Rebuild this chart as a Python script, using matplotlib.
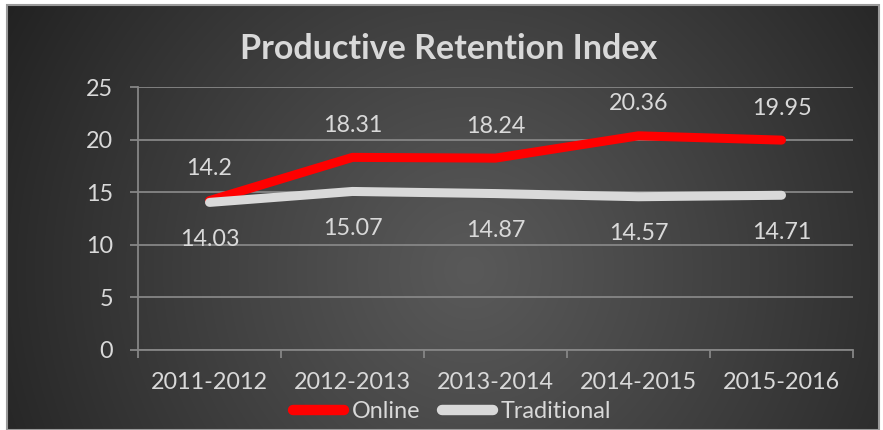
import numpy as np
import matplotlib
matplotlib.use("Agg")
import matplotlib.pyplot as plt
from matplotlib.patches import Rectangle
from matplotlib.lines import Line2D

categories = ["2011-2012", "2012-2013", "2013-2014", "2014-2015", "2015-2016"]
online = [14.2, 18.31, 18.24, 20.36, 19.95]
traditional = [14.03, 15.07, 14.87, 14.57, 14.71]
yticks = [0, 5, 10, 15, 20, 25]
title = "Productive Retention Index"

W, H = 883, 430
TXT = "#D9D9D9"
GRID = "#868686"
FONT = "Lato"
FS = 16.8
plt.rcParams["font.family"] = [FONT, "DejaVu Sans"]

fig = plt.figure(figsize=(W / 100, H / 100), dpi=100)
fig.patch.set_facecolor("white")

# background radial gradient chart area
x0, y0, x1, y1 = 7, 5, 879, 430
bg = fig.add_axes([x0 / W, 0, (x1 - x0) / W, 1 - y0 / H])
bg.set_axis_off()
gx, gy = np.meshgrid(np.arange(x0, x1), np.arange(y0, y1))
cx, cy = 470, 270
d = np.sqrt((gx - cx) ** 2 + (gy - cy) ** 2)
d = d / d.max()
c_in, c_out = 0x59, 0x22
v = (c_in + (c_out - c_in) * np.clip(d, 0, 1) ** 1.1) / 255.0
img = np.dstack([v, v, v])
bg.imshow(img, aspect="auto", interpolation="bilinear")
fig.patches.append(Rectangle((x0 / W, 0), (x1 - x0) / W, 1 - y0 / H, transform=fig.transFigure,
                             fill=False, edgecolor="#9a9a9a", linewidth=1.5))

ax = fig.add_axes([138 / W, 1 - 350 / H, (853 - 138) / W, (350 - 87) / H])
ax.set_facecolor("none")
n = len(categories)
xs = np.arange(n)
ax.set_xlim(-0.5, n - 0.5)
ax.set_ylim(0, 25)

ax.set_yticks(yticks)
ax.set_yticklabels([str(t) for t in yticks])
ax.yaxis.grid(True, color=GRID, linewidth=1.3)
ax.set_axisbelow(True)
ax.tick_params(axis="y", colors=GRID, labelcolor=TXT, labelsize=FS, length=6, width=1.3, pad=12)

ax.set_xticks(xs)
ax.set_xticklabels(categories)
ax.set_xticks(np.arange(-0.5, n, 1.0), minor=True)
ax.tick_params(axis="x", which="major", length=0, labelcolor=TXT, labelsize=FS, pad=16)
ax.tick_params(axis="x", which="minor", length=6, width=1.3, color=GRID)

for s in ["top", "right"]:
    ax.spines[s].set_visible(False)
for s in ["left", "bottom"]:
    ax.spines[s].set_color(GRID)
    ax.spines[s].set_linewidth(1.3)

lw = 6.5
ax.plot(xs, online, color="#FF0000", linewidth=lw, solid_capstyle="round", solid_joinstyle="round", zorder=3)
ax.plot(xs, traditional, color="#D9D9D9", linewidth=lw, solid_capstyle="round", solid_joinstyle="round", zorder=4)

for i, v_ in enumerate(online):
    ax.annotate(f"{v_:g}", (xs[i], v_), xytext=(0, 25.5), textcoords="offset pixels",
                ha="center", va="baseline", color=TXT, fontsize=FS)
for i, v_ in enumerate(traditional):
    ax.annotate(f"{v_:g}", (xs[i], v_), xytext=(0, -43.5), textcoords="offset pixels",
                ha="center", va="baseline", color=TXT, fontsize=FS)

fig.text(449 / W, 1 - 59 / H, title, ha="center", va="baseline", color=TXT,
         fontsize=24.5, fontweight="bold")

handles = [Line2D([], [], color="#FF0000", linewidth=7.5, solid_capstyle="round"),
           Line2D([], [], color="#D9D9D9", linewidth=7.5, solid_capstyle="round")]
leg = fig.legend(handles, ["Online", "Traditional"], loc="center", bbox_to_anchor=(452 / W, 1 - 412 / H),
                 ncol=2, frameon=False, fontsize=FS, handlelength=2.2, handletextpad=0.35,
                 columnspacing=0.9, borderpad=0)
for t in leg.get_texts():
    t.set_color(TXT)

fig.savefig("out.png", dpi=100)
